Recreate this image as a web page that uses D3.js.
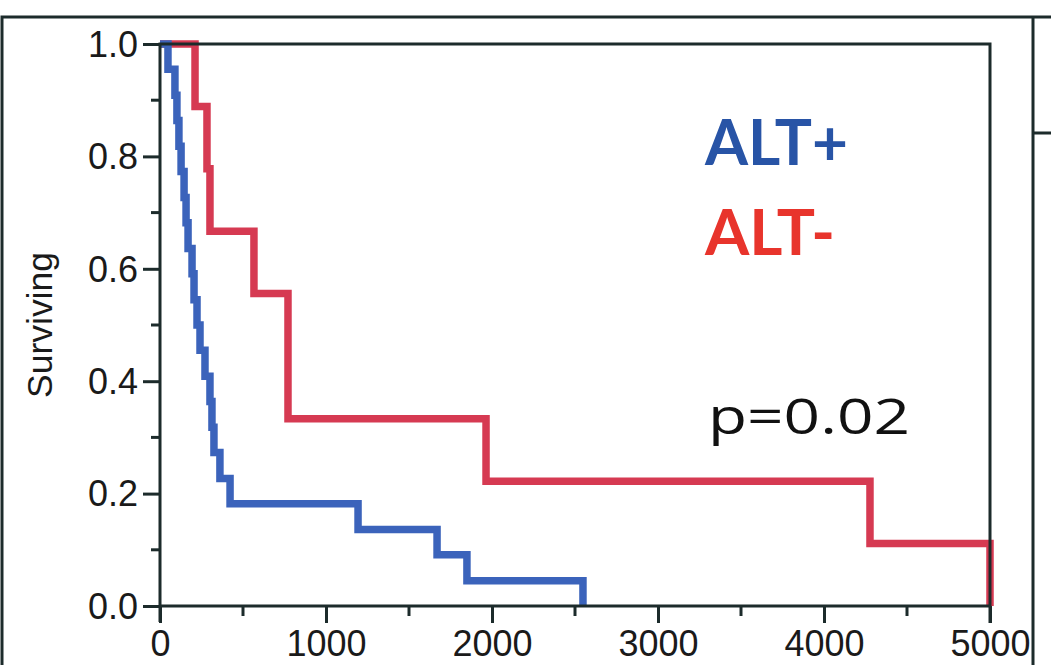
<!DOCTYPE html>
<html>
<head>
<meta charset="utf-8">
<script src="https://cdn.jsdelivr.net/npm/d3@7"></script>
<style>
  body { margin: 0; background: #fff; }
  svg { display: block; }
</style>
</head>
<body>
<div id="chart"></div>
<script>
// Kaplan-Meier steps (days, fraction surviving)
let altPosTimes = [0, 48, 90, 102, 114, 127, 145, 157, 169, 193, 205, 223, 241, 271, 301, 313, 325, 361, 422, 1193, 1669, 1849, 2548];
let altPosSurv = [1, 0.955, 0.909, 0.864, 0.818, 0.773, 0.727, 0.682, 0.636, 0.591, 0.545, 0.5, 0.455, 0.409, 0.364, 0.318, 0.273, 0.227, 0.182, 0.136, 0.091, 0.045, 0];
let altNegTimes = [0, 211, 283, 301, 566, 771, 1964, 4277, 5000];
let altNegSurv = [1, 0.889, 0.778, 0.667, 0.556, 0.333, 0.222, 0.111, 0];
let xTicks = [0, 1000, 2000, 3000, 4000, 5000];
let yTicks = [0, 0.2, 0.4, 0.6, 0.8, 1.0];
let seriesNames = ["ALT+", "ALT-"];
let pLabel = "p=0.02";

function main(){
    let width = 1051;
    let height = 665;
    let axisColor = "#1c2b2b";

    let svg = d3.select("#chart").append("svg")
        .attr("width", width)
        .attr("height", height);

    // outer panel frame
    svg.append("path")
        .attr("d", "M2,665 V17 H1051 M1033,17 V665 M1033,133 H1051")
        .attr("fill", "none")
        .attr("stroke", axisColor)
        .attr("stroke-width", 3);

    let x = d3.scaleLinear().domain([0, 5000]).range([160, 990]);
    let y = d3.scaleLinear().domain([0, 1]).range([606, 44]);

    let line = d3.line()
        .x(function(d){ return x(d[0]); })
        .y(function(d){ return y(d[1]); })
        .curve(d3.curveStepAfter);

    let neg = altNegTimes.map(function(t, i){ return [t, altNegSurv[i]]; });
    let pos = altPosTimes.map(function(t, i){ return [t, altPosSurv[i]]; });

    svg.append("path")
        .attr("d", line(neg))
        .attr("fill", "none")
        .attr("stroke", "#d63a52")
        .attr("stroke-width", 7.5);

    svg.append("path")
        .attr("d", line(pos))
        .attr("fill", "none")
        .attr("stroke", "#3b63bb")
        .attr("stroke-width", 7.5);

    // minor ticks
    let xMinor = d3.range(500, 5000, 1000);
    let yMinor = d3.range(0.1, 1, 0.2);

    let xAxis = d3.axisBottom(x).tickValues(xTicks).tickSize(17).tickPadding(6)
        .tickFormat(d3.format("d"));
    let yAxis = d3.axisLeft(y).tickValues(yTicks).tickSize(17).tickPadding(5)
        .tickFormat(d3.format(".1f"));

    let gx = svg.append("g")
        .attr("transform", "translate(0,606)")
        .call(xAxis);
    svg.append("g").attr("transform", "translate(0,606)")
        .selectAll("line").data(xMinor).enter().append("line")
        .attr("x1", function(d){ return x(d); })
        .attr("x2", function(d){ return x(d); })
        .attr("y1", 0).attr("y2", 10)
        .attr("stroke", axisColor).attr("stroke-width", 3);

    let gy = svg.append("g")
        .attr("transform", "translate(160,0)")
        .call(yAxis);
    svg.append("g").attr("transform", "translate(160,0)")
        .selectAll("line").data(yMinor).enter().append("line")
        .attr("x1", -9).attr("x2", 0)
        .attr("y1", function(d){ return y(d); })
        .attr("y2", function(d){ return y(d); })
        .attr("stroke", axisColor).attr("stroke-width", 3);

    [gx, gy].forEach(function(g){
        g.select(".domain").remove();
        g.selectAll(".tick line").attr("stroke", axisColor).attr("stroke-width", 3);
        g.selectAll(".tick text")
            .attr("fill", "#1a1a1a")
            .attr("font-family", "Liberation Sans, Arial, sans-serif")
            .attr("font-size", 36);
    });
    gx.selectAll(".tick text").attr("dy", "0.74em");
    gy.selectAll(".tick text").attr("dy", "0.34em");

    // box around the plot area
    svg.append("path")
        .attr("d", "M" + x(0) + "," + (y(0) + 16) + " V" + y(1) + " H" + x(5000) + " V" + (y(0) + 17)
            + " M" + x(0) + "," + y(0) + " H" + x(5000))
        .attr("fill", "none")
        .attr("stroke", axisColor)
        .attr("stroke-width", 3);

    svg.append("text")
        .attr("transform", "translate(52,325) rotate(-90)")
        .attr("text-anchor", "middle")
        .attr("font-family", "Liberation Sans, Arial, sans-serif")
        .attr("font-size", 35)
        .attr("fill", "#1a1a1a")
        .attr("textLength", 146)
        .attr("lengthAdjust", "spacingAndGlyphs")
        .text("Surviving");

    svg.append("text")
        .attr("x", 705).attr("y", 165)
        .attr("font-family", "Lato, sans-serif")
        .attr("font-weight", "bold")
        .attr("font-size", 64)
        .attr("fill", "#2854a6")
        .attr("textLength", 143)
        .attr("lengthAdjust", "spacingAndGlyphs")
        .text(seriesNames[0]);

    svg.append("text")
        .attr("x", 705).attr("y", 255)
        .attr("font-family", "Lato, sans-serif")
        .attr("font-weight", "bold")
        .attr("font-size", 64)
        .attr("fill", "#e8342c")
        .attr("textLength", 130)
        .attr("lengthAdjust", "spacingAndGlyphs")
        .text(seriesNames[1]);

    svg.append("text")
        .attr("x", 708).attr("y", 434)
        .attr("font-family", "Open Sans, Lato, sans-serif")
        .attr("font-size", 50)
        .attr("fill", "#111")
        .attr("textLength", 202)
        .attr("lengthAdjust", "spacingAndGlyphs")
        .text(pLabel);
}

main();
</script>
</body>
</html>
